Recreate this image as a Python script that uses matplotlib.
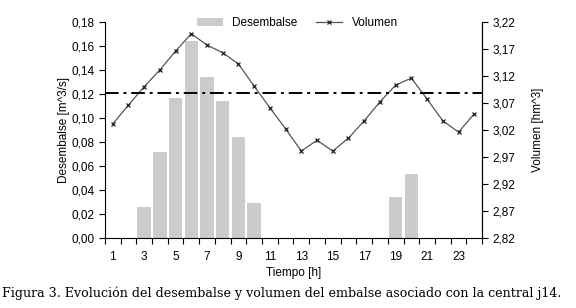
import matplotlib
matplotlib.use("Agg")
from matplotlib import pyplot as plt
from matplotlib.ticker import FuncFormatter, FixedLocator
import numpy as np

# datos horarios
horas = np.arange(1, 25)
desembalse = [0, 0, 0.026, 0.072, 0.117, 0.164, 0.134, 0.114, 0.084, 0.029,
              0, 0, 0, 0, 0, 0, 0, 0, 0.034, 0.053, 0, 0, 0, 0]
volumen = [3.031, 3.066, 3.100, 3.131, 3.166, 3.198, 3.177, 3.163, 3.142, 3.101,
           3.061, 3.022, 2.981, 3.001, 2.981, 3.005, 3.037, 3.072, 3.103, 3.116,
           3.077, 3.037, 3.016, 3.050]
volumen_ref = 3.089
etiquetas_x = [str(h) for h in range(1, 24, 2)]

plt.rcParams['font.family'] = ['Liberation Sans', 'DejaVu Sans']

fig = plt.figure(figsize=(5.76, 3.08), dpi=100)
ax = fig.add_axes([0.182, 0.227, 0.655, 0.702])
ax2 = ax.twinx()

ax.bar(horas, desembalse, width=0.86, color='#cccccc', label='Desembalse', zorder=1)
ax2.plot(horas, volumen, color='#555555', lw=0.9, marker='x', ms=3.5,
         mec='#222222', mew=0.9, label='Volumen')
ax2.axhline(volumen_ref, color='black', lw=1.4, ls=(0, (7, 2.5, 1.5, 2.5)))

ax.set_xlim(0.5, 24.5)
ax.set_ylim(0, 0.18)
ax2.set_ylim(2.82, 3.22)

ax.set_yticks(np.arange(0, 0.181, 0.02))
ax2.set_yticks(np.arange(2.82, 3.221, 0.05))
ax.yaxis.set_major_formatter(FuncFormatter(lambda v, p: f"{v:.2f}".replace('.', ',')))
ax2.yaxis.set_major_formatter(FuncFormatter(lambda v, p: f"{v:.2f}".replace('.', ',')))

# marcas entre categorías, etiquetas en las horas impares
ax.xaxis.set_major_locator(FixedLocator(np.arange(0.5, 25, 1)))
ax.xaxis.set_major_formatter(FuncFormatter(lambda v, p: ''))
ax.xaxis.set_minor_locator(FixedLocator(range(1, 24, 2)))
ax.set_xticklabels(etiquetas_x, minor=True)
ax.tick_params(axis='x', which='minor', length=0, pad=9)
ax.tick_params(axis='x', which='major', length=4, direction='out')

for a in (ax, ax2):
    a.spines['top'].set_visible(False)
    a.tick_params(labelsize=8.5, length=4, width=0.8)
ax.tick_params(axis='x', which='minor', labelsize=8.5)
ax2.spines['left'].set_visible(False)
ax2.spines['bottom'].set_visible(False)

ax.set_xlabel('Tiempo [h]', fontsize=8.5, labelpad=3)
ax.set_ylabel('Desembalse [m^3/s]', fontsize=8.5, labelpad=1)
ax2.set_ylabel('Volumen [hm^3]', fontsize=8.5, labelpad=12)

h1, l1 = ax.get_legend_handles_labels()
h2, l2 = ax2.get_legend_handles_labels()
ax2.legend(h1 + h2, l1 + l2, loc='upper center', bbox_to_anchor=(0.51, 1.07),
           ncol=2, frameon=False, fontsize=8.5, handlelength=2.2, columnspacing=1.6)

fig.text(0.003, 0.035, 'Figura 3. Evolución del desembalse y volumen del embalse asociado con la central j14.',
         family='DejaVu Serif', fontsize=9.1)

fig.savefig('out.png', dpi=100)
